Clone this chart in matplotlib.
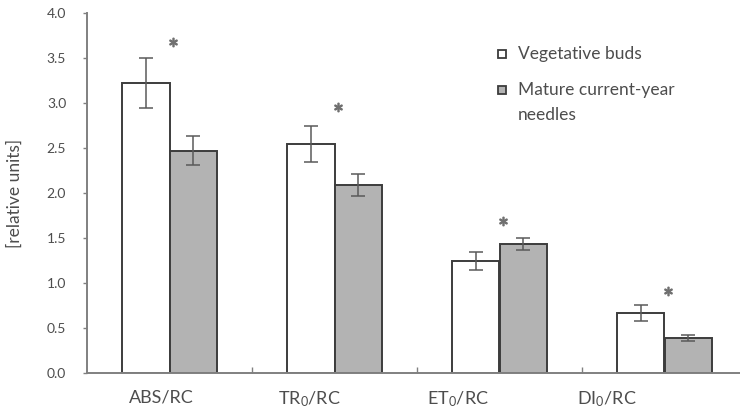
import numpy as np
import matplotlib
matplotlib.use("Agg")
import matplotlib.pyplot as plt
from matplotlib.patches import Rectangle

plt.rcParams['font.family'] = ['Lato', 'DejaVu Sans']
plt.rcParams['mathtext.fontset'] = 'custom'
plt.rcParams['mathtext.rm'] = 'Lato'
plt.rcParams['mathtext.it'] = 'Lato'

categories = ["ABS/RC", "TR$_0$/RC", "ET$_0$/RC", "DI$_0$/RC"]
buds = [3.22, 2.54, 1.25, 0.67]
buds_err = [0.28, 0.20, 0.10, 0.09]
needles = [2.47, 2.09, 1.43, 0.39]
needles_err = [0.16, 0.12, 0.065, 0.035]
star_y = [3.68, 2.96, 1.69, 0.91]
yticks = [0.0, 0.5, 1.0, 1.5, 2.0, 2.5, 3.0, 3.5, 4.0]

text_col = "#4d4d4d"
edge_col = "#3c3c3c"
grey_fill = "#b3b3b3"

fig = plt.figure(figsize=(7.40, 4.09), dpi=100)
ax = fig.add_axes([87 / 740, 36 / 409, 660 / 740, 360 / 409])

x = np.arange(len(categories))
w = 0.285
ekw = dict(ecolor="#5a5a5a", elinewidth=1.1, capsize=5, capthick=1.1)
b1 = ax.bar(x - w / 2, buds, w, color="white", edgecolor=edge_col, linewidth=1.4,
            yerr=buds_err, error_kw=ekw, zorder=2)
b2 = ax.bar(x + w / 2, needles, w, color=grey_fill, edgecolor=edge_col, linewidth=1.4,
            yerr=needles_err, error_kw=ekw, zorder=2)

ax.scatter(x + 0.02, star_y, marker="$\\ast$", s=38, color="#707070", zorder=3)

ax.set_xlim(-0.5, 3.5)
ax.set_ylim(0, 4.0)
ax.set_yticks(yticks)
ax.set_yticklabels([f"{v:.1f}" for v in yticks])
ax.tick_params(axis="y", direction="out", length=3, width=1, color="#808080",
               labelsize=10, labelcolor=text_col, pad=12)

# category labels sit a bit left of the bar pairs in the original
ax.set_xticks(x * 0.9 - 0.05)
ax.set_xticklabels(categories)
ax.tick_params(axis="x", which="major", length=0, labelsize=13, labelcolor=text_col, pad=12)
ax.set_xticks(x[:-1] + 0.5, minor=True)
ax.tick_params(axis="x", which="minor", direction="in", length=4, width=1, color="#808080")

for s in ["top", "right"]:
    ax.spines[s].set_visible(False)
for s in ["left", "bottom"]:
    ax.spines[s].set_color("#808080")
    ax.spines[s].set_linewidth(1.4)

ax.set_ylabel("[relative units]", fontsize=12.5, color=text_col)
ax.yaxis.set_label_coords(-0.097, 0.5)

# legend drawn by hand so the square lines up with the first text line
sq = 8 / 660
sqh = 8 / 360
for ypx, bar, lines in [(54, b1, ["Vegetative buds"]),
                        (90, b2, ["Mature current-year", "needles"])]:
    yc = (373 - ypx) / 360
    ax.add_patch(Rectangle(((498 - 87) / 660, yc - sqh / 2), sq, sqh, transform=ax.transAxes,
                           facecolor=bar.patches[0].get_facecolor(), edgecolor=edge_col,
                           linewidth=1.3, clip_on=False))
    for k, t in enumerate(lines):
        ax.text((518 - 87) / 660, yc - k * 25 / 360, t, transform=ax.transAxes,
                ha="left", va="center", fontsize=12.5, color=text_col)

fig.savefig("out.png", dpi=100)
